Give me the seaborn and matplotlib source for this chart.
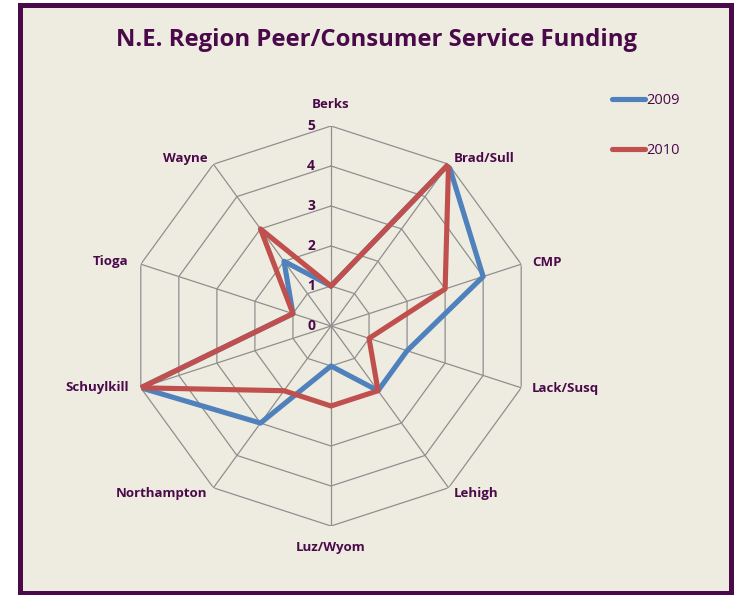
import numpy as np
import pandas as pd
import matplotlib
matplotlib.use("Agg")
import matplotlib.pyplot as plt
import seaborn as sns
from matplotlib.patches import Rectangle

# ── data ──────────────────────────────────────────────
categories = ['Berks', 'Brad/Sull', 'CMP', 'Lack/Susq', 'Lehigh',
              'Luz/Wyom', 'Northampton', 'Schuylkill', 'Tioga', 'Wayne']
vals_2009 = [1, 5, 4, 2, 2, 1, 3, 5, 1, 2]
vals_2010 = [1, 5, 3, 1, 2, 2, 2, 5, 1, 3]
series_names = ['2009', '2010']
ticks = [0, 1, 2, 3, 4, 5]

purple = '#4a0a4a'
bg = '#eeebe0'
grid_col = '#8f8f8f'
colors = {'2009': '#4f81bd', '2010': '#c0504d'}

sns.set_theme(style='white')
plt.rcParams['font.family'] = ['Open Sans', 'DejaVu Sans']

n = len(categories)
angles = np.linspace(0, 2 * np.pi, n, endpoint=False)

rows = []
for name, vals in zip(series_names, [vals_2009, vals_2010]):
    for i, (a, v) in enumerate(zip(angles, vals)):
        rows.append({'series': name, 'order': i, 'angle': a, 'value': v})
    rows.append({'series': name, 'order': n, 'angle': angles[0], 'value': vals[0]})
df = pd.DataFrame(rows)

fig = plt.figure(figsize=(7.4, 5.95), dpi=100)
fig.patch.set_facecolor('white')
# framed background
fig.patches.append(Rectangle((19.5 / 740, 2.5 / 595), 711 / 740, 587.5 / 595,
                             transform=fig.transFigure, facecolor=bg,
                             edgecolor=purple, linewidth=3.6, zorder=-5))

ax = fig.add_axes([131 / 740, 69 / 595, 400 / 740, 400 / 595], projection='polar')
ax.set_facecolor('none')
ax.set_theta_zero_location('N')
ax.set_theta_direction(-1)
ax.grid(False)
ax.spines['polar'].set_visible(False)

# polygon rings and spokes
ring_angles = np.append(angles, angles[0])
for t in ticks[1:]:
    ax.plot(ring_angles, [t] * (n + 1), color=grid_col, lw=0.9, zorder=1)
for a in angles:
    ax.plot([a, a], [0, 5], color=grid_col, lw=0.9, zorder=1)

for name in series_names:
    d = df[df['series'] == name]
    sns.lineplot(data=d, x='angle', y='value', sort=False, ax=ax,
                 color=colors[name], lw=3.7, estimator=None, legend=False,
                 zorder=3)
ax.set_xlabel('')
ax.set_ylabel('')
ax.set_ylim(0, 5)
ax.set_xticks([])
ax.set_yticks([])
ax.grid(False)

# value labels along the Berks spoke
for t in ticks:
    ax.annotate(str(t), xy=(0, t), xytext=(-16, 0), textcoords='offset pixels',
                ha='right', va='center', fontsize=10, fontweight='bold',
                color=purple)

# category labels
offsets = [(0, 22, 'center'), (5, 6, 'left'), (11, 2, 'left'),
           (11, -1, 'left'), (5, -6, 'left'), (0, -21, 'center'),
           (-6, -6, 'right'), (-12, 0, 'right'), (-12, 3, 'right'),
           (-6, 6, 'right')]
for cat, a, (dx, dy, ha) in zip(categories, angles, offsets):
    ax.annotate(cat, xy=(a, 5), xytext=(dx, dy), textcoords='offset pixels',
                ha=ha, va='center', fontsize=9.5, fontweight='bold',
                color=purple)

# legend
for name, y in zip(series_names, [99, 149]):
    yf = 1 - y / 595
    fig.add_artist(plt.Line2D([612 / 740, 645 / 740], [yf, yf],
                              color=colors[name], lw=3.7,
                              solid_capstyle='round'))
    fig.text(646 / 740, yf - 2 / 595, name, ha='left', va='center',
             fontsize=10.5, color=purple)

fig.text(376 / 740, 1 - 40 / 595, 'N.E. Region Peer/Consumer Service Funding',
         ha='center', va='center', fontsize=17.2, fontweight='bold', color=purple)

fig.savefig('out.png', dpi=100, facecolor=fig.get_facecolor())
